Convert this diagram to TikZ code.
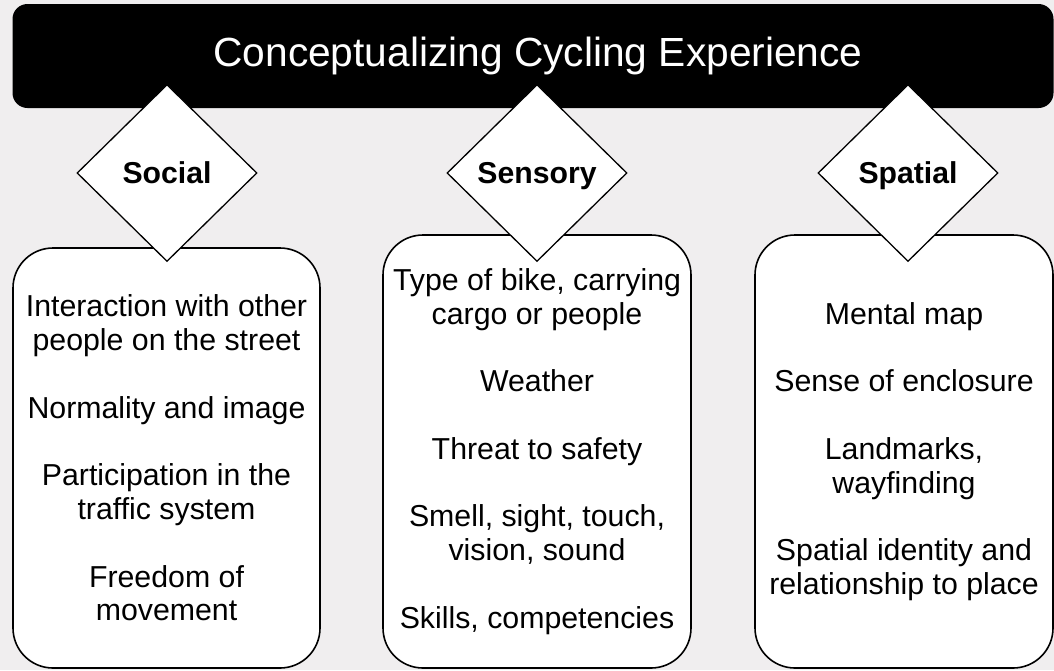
\documentclass[tikz,border=0pt]{standalone}
\usepackage{fontspec}
\setmainfont{Liberation Sans}
\usetikzlibrary{shapes.geometric}
\definecolor{bgpaper}{RGB}{240,238,239}
\begin{document}
\begin{tikzpicture}[%
    x=1pt,y=-1pt,
    banner/.style={rectangle,fill=black,rounded corners=15pt,minimum width=1041pt,minimum height=104pt,inner sep=0pt},
    facet/.style={diamond,draw,fill=white,line width=1.3pt,minimum width=180pt,minimum height=177pt,inner sep=0pt,text height=21.5pt,text depth=0pt,font=\fontsize{30.2}{34}\selectfont\bfseries},
    itembox/.style={rectangle,draw,fill=white,line width=1.6pt,rounded corners=40pt,align=center,inner sep=0pt,font=\fontsize{30.3}{33.8}\selectfont}
  ]
		\useasboundingbox[fill=bgpaper] (0,0) rectangle (1054,670);

		\node at (533,56) [banner] (title) {};
		\node at (538,56) [text=white,font=\fontsize{40.7}{46}\selectfont] (titletext) {Conceptualizing Cycling Experience};

		\node at (166.5,458) [itembox,minimum width=307pt,minimum height=420pt] (socialbox)
			{Interaction with other\\people on the street\\[33.8pt]Normality and image\\[33.8pt]Participation in the\\traffic system\\[33.8pt]Freedom of\\movement};
		\node at (537,451.5) [itembox,minimum width=308pt,minimum height=433pt] (sensorybox)
			{Type of bike, carrying\\cargo or people\\[33.8pt]Weather\\[33.8pt]Threat to safety\\[33.8pt]Smell, sight, touch,\\vision, sound\\[33.8pt]Skills, competencies};
		\node at (904,451.5) [itembox,minimum width=298pt,minimum height=433pt] (spatialbox)
			{Mental map\\[33.8pt]Sense of enclosure\\[33.8pt]Landmarks,\\wayfinding\\[33.8pt]Spatial identity and\\relationship to place};

		\node at (167,173) [facet] (social) {Social};
		\node at (537,173) [facet] (sensory) {Sensory};
		\node at (908,173) [facet] (spatial) {Spatial};
	\end{tikzpicture}
\end{document}
